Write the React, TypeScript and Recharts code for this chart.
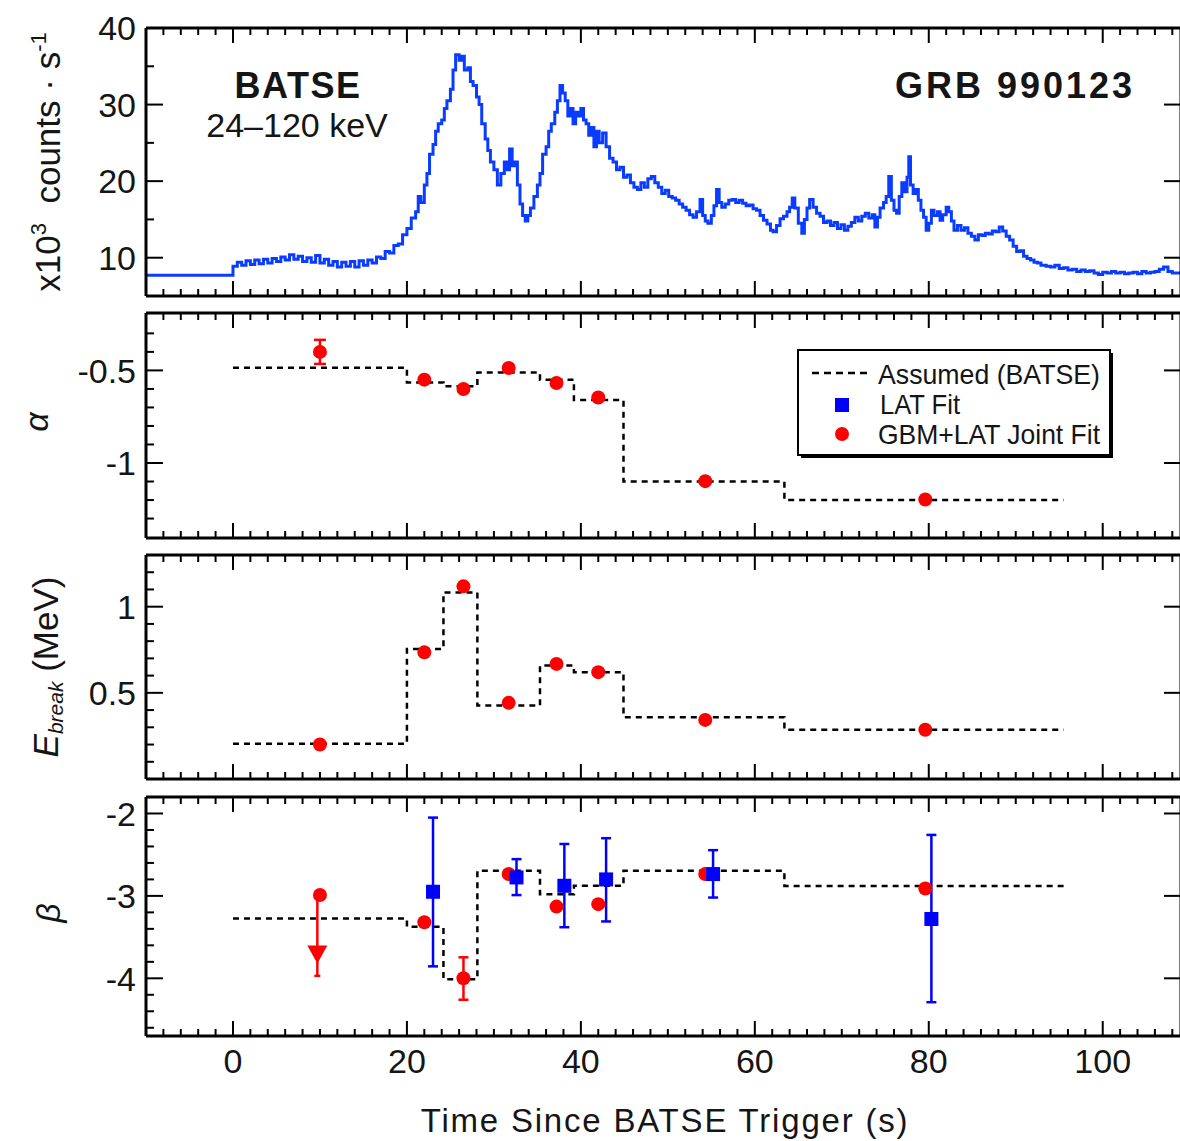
import React from 'react';
import { ComposedChart, Line, Scatter, XAxis, YAxis, ErrorBar } from 'recharts';

const FONT = '"Liberation Sans", Arial, Helvetica, sans-serif';
const INK = '#151515';
const RED = '#ff0000';
const BLUE = '#0000ff';
const CURVE = '#0a3cff';

// ---------- Light curve (BATSE 24-120 keV, x10^3 counts/s) ----------
const lcTimes = [-10,
  0, 0.5, 1, 1.5, 2, 2.5, 3, 3.5, 4, 4.5, 5, 5.5, 6, 6.5, 7, 7.5, 8, 8.5, 9, 9.5, 10, 10.5, 11, 11.5, 12, 12.5, 13, 13.5, 14, 14.5, 15, 15.5, 16, 16.5, 17, 17.5, 18, 18.5, 19, 19.5,
  20, 20.5, 21, 21.3, 21.6, 22, 22.3, 22.6, 23, 23.3, 23.6, 24, 24.3, 24.6, 25, 25.3, 25.6, 26, 26.3, 26.6, 27, 27.3, 27.6, 28, 28.3, 28.6, 29, 29.3, 29.6,
  30, 30.4, 30.8, 31.2, 31.5, 31.8, 32.1, 32.4, 32.7, 33, 33.3, 33.6, 33.9, 34.2, 34.6, 35, 35.3, 35.6, 36, 36.3, 36.6, 37, 37.3, 37.6, 37.9, 38.2, 38.5, 38.8, 39.1, 39.4, 39.7,
  40, 40.3, 40.6, 40.9, 41.2, 41.5, 41.8, 42.1, 42.5, 42.9, 43.3, 43.7, 44.1, 44.5, 44.9, 45.3, 45.7, 46.1, 46.5, 46.9, 47.3, 47.7, 48.1, 48.5, 48.9, 49.3, 49.7,
  50.1, 50.5, 50.9, 51.3, 51.7, 52.1, 52.5, 52.9, 53.3, 53.7, 54, 54.3, 54.6, 55, 55.3, 55.6, 55.9, 56.2, 56.6, 57, 57.4, 57.8, 58.2, 58.6, 59, 59.4, 59.8,
  60.2, 60.6, 61, 61.4, 61.8, 62.1, 62.5, 62.9, 63.3, 63.7, 64, 64.3, 64.6, 65, 65.4, 65.7, 66, 66.3, 66.7, 67.1, 67.5, 67.9, 68.3, 68.7, 69.1, 69.5, 69.9,
  70.3, 70.7, 71.1, 71.5, 71.9, 72.3, 72.7, 73.1, 73.5, 73.8, 74.1, 74.4, 74.8, 75.1, 75.4, 75.7, 76, 76.3, 76.6, 76.9, 77.2, 77.5, 77.7, 77.9, 78.2, 78.5, 78.8, 79.1, 79.4, 79.7,
  80, 80.3, 80.6, 81, 81.3, 81.6, 82, 82.3, 82.6, 82.9, 83.3, 83.7, 84.1, 84.5, 84.9, 85.3, 85.7, 86.1, 86.5, 86.9, 87.3, 87.7, 88.1, 88.5, 88.9, 89.3, 89.7,
  90.1, 90.5, 90.9, 91.3, 91.7, 92.1, 92.5, 92.9, 93.5, 94, 94.5, 95, 95.5, 96, 96.5, 97, 97.5, 98, 98.5, 99, 99.5,
  100, 100.5, 101, 101.5, 102, 102.5, 103, 103.5, 104, 104.5, 105, 105.5, 106, 106.5, 107, 107.5, 108, 109];
const lcCounts = [7.7,
  8.9, 9.4, 9.0, 9.6, 9.1, 9.7, 9.2, 9.8, 9.3, 9.9, 9.5, 10.1, 9.7, 10.4, 9.8, 10.2, 9.5, 10.0, 9.4, 10.3, 9.3, 9.8, 9.0, 9.5, 8.8, 9.4, 8.9, 9.5, 8.8, 9.6, 9.0, 9.7, 9.3, 10.1, 9.9, 10.8, 10.6, 11.6, 11.8, 13.0,
  13.8, 15.2, 16.0, 18.0, 17.2, 19.5, 21.0, 23.5, 24.8, 26.5, 27.5, 28.0, 29.5, 30.5, 32.0, 34.5, 36.5, 35.8, 36.3, 34.5, 34.8, 33.0, 32.5, 31.0, 30.0, 27.5, 25.5, 24.0, 22.5,
  21.5, 19.5, 21.0, 22.5, 21.5, 24.2, 22.0, 22.5, 19.5, 17.0, 15.5, 14.8, 15.5, 16.5, 18.0, 19.5, 21.0, 23.5, 24.5, 26.5, 27.5, 29.0, 30.5, 32.5, 31.5, 30.5, 28.5, 29.5, 27.5, 29.0, 28.5,
  29.5, 28.0, 27.5, 26.0, 27.0, 24.5, 26.5, 25.0, 26.3, 24.5, 23.0, 22.5, 21.5, 21.8, 20.5, 20.8, 19.8, 19.2, 18.9, 19.8, 19.2, 20.3, 20.6, 19.8, 19.2, 18.4, 18.8,
  18.0, 17.8, 17.5, 17.0, 16.6, 16.2, 15.6, 15.3, 16.0, 17.6, 15.5, 14.8, 14.5, 15.5, 16.8, 18.9, 17.2, 16.6, 17.0, 17.5, 17.6, 17.2, 17.5, 17.1, 16.8, 16.9, 16.4,
  16.2, 15.5, 14.9, 14.4, 13.6, 13.4, 14.2, 15.1, 15.4, 16.0, 16.6, 17.8, 16.5, 14.5, 13.2, 15.0, 16.5, 17.6, 16.6, 15.8, 15.4, 14.6, 14.8, 14.2, 14.6, 13.8, 14.3,
  13.6, 14.1, 14.6, 15.3, 14.8, 15.4, 15.8, 15.2, 15.6, 14.0, 15.3, 16.5, 17.2, 18.0, 20.6, 17.5, 16.2, 15.8, 18.0, 19.8, 18.6, 20.5, 23.2, 19.5, 18.4, 18.9, 17.5, 16.2, 15.3, 13.6,
  14.5, 16.2, 15.5, 16.0, 14.9, 15.6, 16.6, 16.0, 14.8, 13.6, 14.2, 13.6, 13.9, 13.2, 12.8, 12.3, 13.0, 12.9, 13.2, 13.1, 13.5, 13.4, 14.0, 13.5, 12.8, 12.3, 11.5,
  10.8, 10.9, 10.2, 9.9, 9.7, 9.4, 9.3, 9.0, 8.9, 8.8, 9.0, 8.6, 8.7, 8.4, 8.5, 8.2, 8.4, 8.2, 8.3, 8.0, 7.8,
  8.1, 8.0, 8.2, 8.0, 8.1, 7.9, 8.0, 8.1, 7.9, 8.2, 8.0, 8.1, 8.2, 8.5, 8.8, 8.2, 8.0, 7.8];

// ---------- Assumed (BATSE) step model: interval edges and levels ----------
const segEdges = [0, 20, 24.2, 28.1, 35.3, 39.2, 44.9, 63.4, 95.5];
const alphaAssumed = [-0.485, -0.565, -0.585, -0.511, -0.55, -0.66, -1.1, -1.2];
const ebreakAssumed = [0.204, 0.755, 1.083, 0.426, 0.658, 0.62, 0.359, 0.286];
const betaAssumed = [-3.273, -3.375, -4.01, -2.695, -2.98, -2.877, -2.695, -2.88];

// ---------- GBM+LAT joint fit ----------
const jointTimes = [10.0, 22.0, 26.5, 31.7, 37.2, 42.0, 54.3, 79.6];
const alphaJoint = [-0.4, -0.55, -0.6, -0.487, -0.568, -0.646, -1.098, -1.197];
const alphaJointErr = [0.065, 0, 0, 0, 0, 0, 0, 0];
const ebreakJoint = [0.2, 0.735, 1.118, 0.442, 0.668, 0.62, 0.343, 0.286];
const betaJoint = [-2.99, -3.32, -4.0, -2.735, -3.13, -3.1, -2.735, -2.91];
const betaJointErrLow = [0, 0, 0.26, 0, 0, 0, 0, 0];
const betaJointErrHigh = [0, 0, 0.255, 0, 0, 0, 0, 0];

// upper limit on beta in the first interval
const ulTimes = [9.7];
const ulValues = [-3.7];
const ulErrLow = [0.27];
const ulErrHigh = [0.7];

// ---------- LAT fit ----------
const latTimes = [23.0, 32.6, 38.1, 42.9, 55.2, 80.3];
const betaLat = [-2.95, -2.776, -2.877, -2.8, -2.735, -3.28];
const betaLatErrLow = [0.905, 0.214, 0.503, 0.51, 0.285, 1.01];
const betaLatErrHigh = [0.9, 0.222, 0.507, 0.5, 0.29, 1.02];

// ---------- axes ----------
const xDomain: [number, number] = [-10, 109];
const xMajor = [0, 20, 40, 60, 80, 100];
const xMinor = [-8, -6, -4, -2, 2, 4, 6, 8, 10, 12, 14, 16, 18, 22, 24, 26, 28, 30, 32, 34, 36, 38, 42, 44, 46, 48, 50, 52, 54, 56, 58,
  62, 64, 66, 68, 70, 72, 74, 76, 78, 82, 84, 86, 88, 90, 92, 94, 96, 98, 102, 104, 106, 108];

const lcMajor = [10, 20, 30, 40];
const lcMinor = [15, 25, 35];
const alphaMajor = [-0.5, -1];
const alphaMinor = [-0.3, -0.4, -0.6, -0.7, -0.8, -0.9, -1.1, -1.2, -1.3];
const ebreakMajor = [0.5, 1];
const ebreakMinor = [0.1, 0.2, 0.3, 0.4, 0.6, 0.7, 0.8, 0.9, 1.1, 1.2];
const betaMajor = [-2, -3, -4];
const betaMinor = [-2.2, -2.4, -2.6, -2.8, -3.2, -3.4, -3.6, -3.8, -4.2, -4.4, -4.6];

// ---------- tables built from arrays ----------
const lcData = lcTimes.map((t, i) => ({ t, y: lcCounts[i] }));
const stepData = (levels: number[]) =>
  segEdges.map((t, i) => ({ t, y: levels[Math.min(i, levels.length - 1)] }));
const alphaJointData = jointTimes.map((t, i) => ({ t, y: alphaJoint[i], err: [alphaJointErr[i], alphaJointErr[i]] }));
const ebreakJointData = jointTimes.map((t, i) => ({ t, y: ebreakJoint[i] }));
const betaJointData = jointTimes.map((t, i) => ({ t, y: betaJoint[i], err: [betaJointErrLow[i], betaJointErrHigh[i]] }));
const ulData = ulTimes.map((t, i) => ({ t, y: ulValues[i], err: [ulErrLow[i], ulErrHigh[i]] }));
const latData = latTimes.map((t, i) => ({ t, y: betaLat[i], err: [betaLatErrLow[i], betaLatErrHigh[i]] }));

const near = (arr: number[], v: number) => arr.some((m) => Math.abs(m - v) < 1e-6);

const makeXTick = (dir: number, labels: boolean) => (props: any) => {
  const { x, y, payload } = props;
  const major = near(xMajor, payload.value);
  const len = major ? 15 : 7;
  return (
    <g>
      <line x1={x} x2={x} y1={y} y2={y + dir * len} stroke="#000" strokeWidth={2} />
      {labels && major && (
        <text x={x} y={y + 37} textAnchor="middle" fontSize={34} fontFamily={FONT} fill={INK}>
          {payload.value}
        </text>
      )}
    </g>
  );
};

const makeYTick = (majors: number[], dir: number, labels: boolean) => (props: any) => {
  const { x, y, payload } = props;
  const major = near(majors, payload.value);
  const len = major ? 17 : 8;
  return (
    <g>
      <line x1={x} x2={x + dir * len} y1={y} y2={y} stroke="#000" strokeWidth={2} />
      {labels && major && (
        <text x={x - 10} y={y} dy="0.36em" textAnchor="end" fontSize={34} fontFamily={FONT} fill={INK}>
          {payload.value}
        </text>
      )}
    </g>
  );
};

const M_TOP = 28;
const PLOT_LEFT = 146;

type PanelProps = {
  plotTop: number;
  plotH: number;
  yDomain: [number, number];
  yMajor: number[];
  yMinor: number[];
  bottomLabels?: boolean;
  children: React.ReactNode;
};

function Panel({ plotTop, plotH, yDomain, yMajor, yMinor, bottomLabels, children }: PanelProps) {
  const bottomH = bottomLabels ? 60 : 1;
  const bottomM = bottomLabels ? 0 : 4;
  const height = M_TOP + plotH + bottomH + bottomM;
  const axisLine = { stroke: '#000', strokeWidth: 3 };
  return (
    <div style={{ position: 'absolute', left: 0, top: plotTop - M_TOP }}>
      <ComposedChart width={1200} height={height} margin={{ top: M_TOP - 1, right: 18, bottom: bottomM, left: 0 }}>
        <XAxis
          xAxisId="b"
          dataKey="t"
          type="number"
          domain={xDomain}
          allowDataOverflow
          ticks={[...xMajor, ...xMinor]}
          interval={0}
          height={bottomH}
          tickSize={0}
          tickMargin={0}
          tickLine={false}
          axisLine={axisLine}
          tick={makeXTick(-1, !!bottomLabels)}
        />
        <XAxis
          xAxisId="t"
          orientation="top"
          dataKey="t"
          type="number"
          domain={xDomain}
          allowDataOverflow
          ticks={[...xMajor, ...xMinor]}
          interval={0}
          height={1}
          tickSize={0}
          tickMargin={0}
          tickLine={false}
          axisLine={axisLine}
          tick={makeXTick(1, false)}
        />
        <YAxis
          yAxisId="l"
          dataKey="y"
          type="number"
          domain={yDomain}
          allowDataOverflow
          ticks={[...yMajor, ...yMinor]}
          interval={0}
          width={PLOT_LEFT}
          tickSize={0}
          tickMargin={0}
          tickLine={false}
          axisLine={axisLine}
          tick={makeYTick(yMajor, 1, true)}
        />
        <YAxis
          yAxisId="r"
          orientation="right"
          dataKey="y"
          type="number"
          domain={yDomain}
          allowDataOverflow
          ticks={yMajor}
          interval={0}
          width={1}
          tickSize={0}
          tickMargin={0}
          tickLine={false}
          axisLine={axisLine}
          tick={makeYTick(yMajor, -1, false)}
        />
        {children}
      </ComposedChart>
    </div>
  );
}

const dot = (color: string, r: number) => (props: any) => (
  <circle cx={props.cx} cy={props.cy} r={r} fill={color} />
);
const square = (color: string, s: number) => (props: any) => (
  <rect x={props.cx - s / 2} y={props.cy - s / 2} width={s} height={s} fill={color} />
);
const downTriangle = (color: string) => (props: any) => (
  <polygon
    points={`${props.cx - 10},${props.cy - 8} ${props.cx + 10},${props.cy - 8} ${props.cx},${props.cy + 10}`}
    fill={color}
  />
);

const stepLine = (levels: number[]) => (
  <Line
    xAxisId="b"
    yAxisId="l"
    data={stepData(levels)}
    dataKey="y"
    type="stepAfter"
    stroke="#000"
    strokeWidth={2.5}
    strokeDasharray="6 5"
    dot={false}
    activeDot={false}
    isAnimationActive={false}
    legendType="none"
  />
);

export default function App() {
  return (
    <div style={{ position: 'fixed', left: 0, top: 0, width: 1180, height: 1141, overflow: 'hidden', background: '#fff' }}>
      {/* Panel 1: light curve */}
      <Panel plotTop={28} plotH={268} yDomain={[5, 40]} yMajor={lcMajor} yMinor={lcMinor}>
        <Line
          xAxisId="b"
          yAxisId="l"
          data={lcData}
          dataKey="y"
          type="stepAfter"
          stroke={CURVE}
          strokeWidth={3}
          dot={false}
          activeDot={false}
          isAnimationActive={false}
        />
      </Panel>

      {/* Panel 2: alpha */}
      <Panel plotTop={313} plotH={225} yDomain={[-1.405, -0.19]} yMajor={alphaMajor} yMinor={alphaMinor}>
        {stepLine(alphaAssumed)}
        <Scatter xAxisId="b" yAxisId="l" data={alphaJointData} dataKey="y" shape={dot(RED, 7)} isAnimationActive={false}>
          <ErrorBar dataKey="err" direction="y" width={6} stroke={RED} strokeWidth={2.5} isAnimationActive={false} />
        </Scatter>
      </Panel>

      {/* Panel 3: E_break */}
      <Panel plotTop={555} plotH={224} yDomain={[0, 1.3]} yMajor={ebreakMajor} yMinor={ebreakMinor}>
        {stepLine(ebreakAssumed)}
        <Scatter xAxisId="b" yAxisId="l" data={ebreakJointData} dataKey="y" shape={dot(RED, 7)} isAnimationActive={false} />
      </Panel>

      {/* Panel 4: beta */}
      <Panel plotTop={797} plotH={239} yDomain={[-4.7, -1.8]} yMajor={betaMajor} yMinor={betaMinor} bottomLabels>
        {stepLine(betaAssumed)}
        <Scatter xAxisId="b" yAxisId="l" data={ulData} dataKey="y" shape={downTriangle(RED)} isAnimationActive={false}>
          <ErrorBar dataKey="err" direction="y" width={3} stroke={RED} strokeWidth={2.5} isAnimationActive={false} />
        </Scatter>
        <Scatter xAxisId="b" yAxisId="l" data={betaJointData} dataKey="y" shape={dot(RED, 7)} isAnimationActive={false}>
          <ErrorBar dataKey="err" direction="y" width={5} stroke={RED} strokeWidth={2.5} isAnimationActive={false} />
        </Scatter>
        <Scatter xAxisId="b" yAxisId="l" data={latData} dataKey="y" shape={square(BLUE, 14)} isAnimationActive={false}>
          <ErrorBar dataKey="err" direction="y" width={5} stroke={BLUE} strokeWidth={2.5} isAnimationActive={false} />
        </Scatter>
      </Panel>

      {/* Text overlay */}
      <svg width={1180} height={1141} style={{ position: 'absolute', left: 0, top: 0, pointerEvents: 'none' }}>
        <g fontFamily={FONT} fill={INK}>
          <text x={298} y={98} textAnchor="middle" fontSize={36} fontWeight="bold" letterSpacing={1.5}>BATSE</text>
          <text x={297} y={137} textAnchor="middle" fontSize={34}>24–120 keV</text>
          <text x={1015} y={98} textAnchor="middle" fontSize={36} fontWeight="bold" letterSpacing={3}>GRB 990123</text>

          <text transform="translate(60,162) rotate(-90)" textAnchor="middle" fontSize={35}>
            x10<tspan fontSize={22} dy={-14}>3</tspan>
            <tspan dy={14}>{'\u00a0\u00a0counts \u00b7 s'}</tspan>
            <tspan fontSize={22} dy={-14}>-1</tspan>
          </text>
          <text transform="translate(48,422) rotate(-90)" textAnchor="middle" fontSize={34} fontStyle="italic">α</text>
          <text transform="translate(58,667) rotate(-90)" textAnchor="middle" fontSize={35}>
            <tspan fontStyle="italic">E</tspan>
            <tspan fontStyle="italic" fontSize={21} dy={5}>break</tspan>
            <tspan dy={-5}>{' (MeV)'}</tspan>
          </text>
          <text transform="translate(60,913) rotate(-90)" textAnchor="middle" fontSize={34} fontStyle="italic">β</text>

          <text x={665} y={1132} textAnchor="middle" fontSize={33} letterSpacing={1.8}>Time Since BATSE Trigger (s)</text>
        </g>

        {/* Legend */}
        <rect x={801} y={353} width={312} height={105} fill="#000" />
        <rect x={798} y={350} width={312} height={105} fill="#fff" stroke="#000" strokeWidth={2} />
        <line x1={812} x2={868} y1={373} y2={373} stroke="#000" strokeWidth={2.5} strokeDasharray="7 5" />
        <rect x={835} y={398} width={14} height={14} fill={BLUE} />
        <circle cx={842} cy={434} r={7} fill={RED} />
        <g fontFamily={FONT} fill={INK} fontSize={28}>
          <text x={878} y={384} textLength={222} lengthAdjust="spacingAndGlyphs">Assumed (BATSE)</text>
          <text x={880} y={414} textLength={80} lengthAdjust="spacingAndGlyphs">LAT Fit</text>
          <text x={878} y={444} textLength={222} lengthAdjust="spacingAndGlyphs">GBM+LAT Joint Fit</text>
        </g>
      </svg>
    </div>
  );
}
